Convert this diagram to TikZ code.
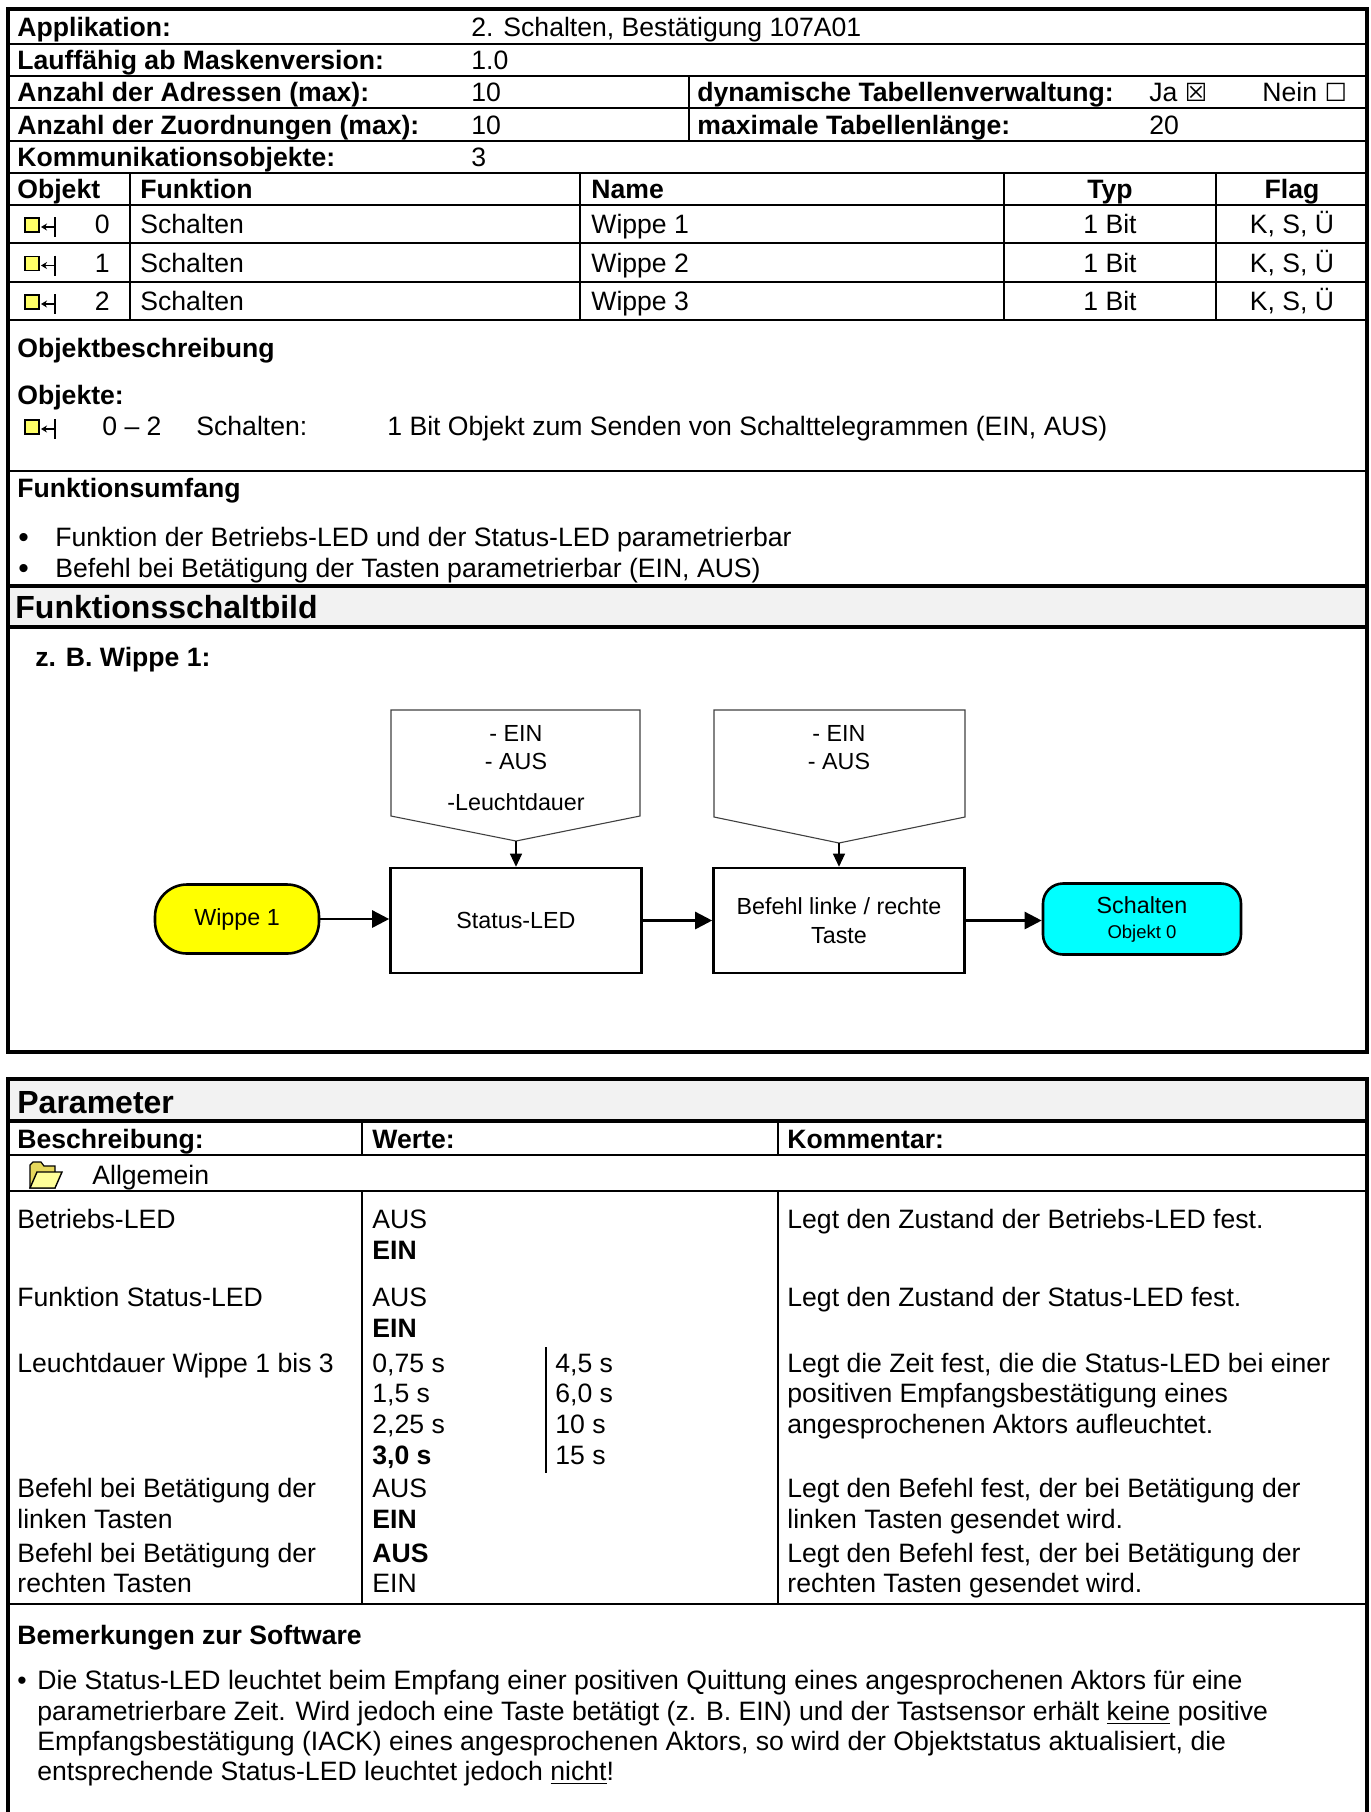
\documentclass[tikz,border=0pt]{standalone}
\usepackage{fontspec}
\setmainfont{Liberation Sans}
\newfontfamily\dejavu{DejaVu Sans}
\usetikzlibrary{arrows.meta}
\newcommand\bodyf{\fontsize{13.3}{15.2}\selectfont}
\newcommand\bigf{\fontsize{16}{18}\selectfont\bfseries}
\newcommand\diagf{\fontsize{11.65}{14.5}\selectfont}
\newcommand\smallf{\fontsize{9.25}{11}\selectfont}
\definecolor{bandgray}{HTML}{F2F2F2}
\definecolor{iconyellow}{HTML}{FFFF66}
\definecolor{wyellow}{HTML}{FFFF00}
\definecolor{scyan}{HTML}{00FFFF}
\definecolor{folderback}{HTML}{E6D85C}
\definecolor{folderfront}{HTML}{FFFF99}
\begin{document}
\begin{tikzpicture}[x=0.5pt,y=-0.5pt,
 lbl/.style={anchor=base west,inner sep=0pt,font=\bodyf\bfseries},
 txt/.style={anchor=base west,inner sep=0pt,font=\bodyf},
 txtb/.style={anchor=base west,inner sep=0pt,font=\bodyf\bfseries},
 ctr/.style={anchor=base,inner sep=0pt,font=\bodyf},
 ctrb/.style={anchor=base,inner sep=0pt,font=\bodyf\bfseries},
 rgt/.style={anchor=base east,inner sep=0pt,font=\bodyf},
 hdr/.style={anchor=base west,inner sep=0pt,font=\bigf},
 dtxt/.style={anchor=base,inner sep=0pt,font=\diagf},
 bul/.style={anchor=base west,inner sep=0pt,font=\fontsize{15}{17}\selectfont},
 frame/.style={line width=1.75pt},
 rule/.style={line width=1pt},
 thinrule/.style={line width=0.7pt},
 pent/.style={draw=black!75,line width=0.55pt},
 stepbox/.style={draw,line width=1.3pt,minimum width=125.5pt,minimum height=52.5pt,inner sep=0pt,align=center,font=\diagf},
 thickarr/.style={line width=1.3pt,-{Triangle[length=8.5pt,width=8.5pt]}},
 thinarr/.style={line width=0.55pt,-{Triangle[length=6.5pt,width=6pt]}},
 objicon/.pic={
   \draw[fill=iconyellow,line width=0.9pt] (25,-6) rectangle (39,8);
   \draw[line width=1.2pt] (55,-7) -- (55,13);
   \draw[line width=0.6pt,-{Stealth[length=3pt,width=3.5pt]}] (55,3) -- (41,3);
 }]
\useasboundingbox (0,0) rectangle (1371,1812);
\clip (0,0) rectangle (1371,1812);

% ---------- backgrounds ----------
\fill[bandgray] (8,586) rectangle (1367,627);
\fill[bandgray] (8,1079) rectangle (1367,1121);

% ---------- box 1 lines ----------
\draw[frame] (8,9) rectangle (1367,1052);
\foreach \yy in {44,76,108,141,173,205,243,282} \draw[rule] (8,\yy) -- (1367,\yy);
\draw[line width=1.3pt] (8,320) -- (1367,320);
\draw[rule] (8,471) -- (1367,471);
\draw[frame] (8,586) -- (1367,586);
\draw[line width=2.2pt] (8,627) -- (1367,627);
\draw[thinrule] (689,76) -- (689,141);
\foreach \xx in {130,580,1004,1216} \draw[thinrule] (\xx,173) -- (\xx,320);

% ---------- box 2 lines ----------
\draw[frame] (8,1079) rectangle (1367,1850);
\draw[frame] (8,1121) -- (1367,1121);
\draw[rule] (8,1155) -- (1367,1155);
\draw[rule] (8,1191) -- (1367,1191);
\draw[line width=1.3pt] (8,1604) -- (1367,1604);
\draw[thinrule] (362,1121) -- (362,1155);
\draw[thinrule] (778,1121) -- (778,1155);
\draw[thinrule] (362,1191) -- (362,1604);
\draw[thinrule] (778,1191) -- (778,1604);
\draw[thinrule] (546,1347) -- (546,1473);

% ---------- header table ----------
\node[lbl] (h1) at (17,36) {Applikation:};
\node[txt] (v1) at (471,36) {2. Schalten, Bestätigung 107A01};
\node[lbl] (h2) at (17,69.5) {Lauffähig ab Maskenversion:};
\node[txt] (v2) at (471,69.5) {1.0};
\node[lbl] (h3) at (17,101.5) {Anzahl der Adressen (max):};
\node[txt] (v3) at (471,101.5) {10};
\node[lbl] (h3b) at (697,101.5) {dynamische Tabellenverwaltung:};
\node[txt] (ja) at (1149,101.5) {Ja {\dejavu\fontsize{12.5}{14}\selectfont ☒}};
\node[txt] (nein) at (1262,101.5) {Nein {\dejavu\fontsize{12.5}{14}\selectfont ☐}};
\node[lbl] (h4) at (17,134) {Anzahl der Zuordnungen (max):};
\node[txt] (v4) at (471,134) {10};
\node[lbl] (h4b) at (697,134) {maximale Tabellenlänge:};
\node[txt] (v4b) at (1149,134) {20};
\node[lbl] (h5) at (17,166.5) {Kommunikationsobjekte:};
\node[txt] (v5) at (471,166.5) {3};
\node[lbl] (c1) at (17,198.5) {Objekt};
\node[lbl] (c2) at (140,198.5) {Funktion};
\node[lbl] (c3) at (591,198.5) {Name};
\node[ctrb] (c4) at (1110,198.5) {Typ};
\node[ctrb] (c5) at (1292,198.5) {Flag};

\pic at (0,224) {objicon};
\node[rgt] (n0) at (110,233.5) {0};
\node[txt] (f0) at (140,233.5) {Schalten};
\node[txt] (w0) at (591,233.5) {Wippe 1};
\node[ctr] (b0) at (1110,233.5) {1 Bit};
\node[ctr] (k0) at (1292,233.5) {K, S, Ü};

\pic at (0,262.5) {objicon};
\node[rgt] (n1) at (110,272) {1};
\node[txt] (f1) at (140,272) {Schalten};
\node[txt] (w1) at (591,272) {Wippe 2};
\node[ctr] (b1) at (1110,272) {1 Bit};
\node[ctr] (k1) at (1292,272) {K, S, Ü};

\pic at (0,301) {objicon};
\node[rgt] (n2) at (110,310.5) {2};
\node[txt] (f2) at (140,310.5) {Schalten};
\node[txt] (w2) at (591,310.5) {Wippe 3};
\node[ctr] (b2) at (1110,310.5) {1 Bit};
\node[ctr] (k2) at (1292,310.5) {K, S, Ü};

% ---------- Objektbeschreibung ----------
\node[lbl] (ob) at (17,357.5) {Objektbeschreibung};
\node[lbl] (oo) at (17,404.5) {Objekte:};
\pic at (0,426) {objicon};
\node[txt] (o1) at (102,435.5) {0 – 2};
\node[txt] (o2) at (196,435.5) {Schalten:};
\node[txt] (o3) at (387,435.5) {1 Bit Objekt zum Senden von Schalttelegrammen (EIN, AUS)};

% ---------- Funktionsumfang ----------
\node[lbl] (fu) at (17,497.5) {Funktionsumfang};
\node[bul] (fb1) at (18,547) {•};
\node[txt] (fu1) at (55,546.5) {Funktion der Betriebs-LED und der Status-LED parametrierbar};
\node[bul] (fb2) at (18,578) {•};
\node[txt] (fu2) at (55,577.5) {Befehl bei Betätigung der Tasten parametrierbar (EIN, AUS)};

% ---------- Funktionsschaltbild ----------
\node[hdr] (fs) at (15,618.5) {Funktionsschaltbild};
\node[lbl] (zb) at (35,666.5) {z. B. Wippe 1:};

\draw[pent] (391,710) -- (640,710) -- (640,816) -- (516,841) -- (391,816) -- cycle;
\coordinate (p1tip) at (516,841);
\node[dtxt] (p1a) at (516,741) {- EIN};
\node[dtxt] (p1b) at (516,769) {- AUS};
\node[dtxt] (p1c) at (516,810) {-Leuchtdauer};

\draw[pent] (714,710) -- (965,710) -- (965,817) -- (839,843) -- (714,817) -- cycle;
\coordinate (p2tip) at (839,843);
\node[dtxt] (p2a) at (839,741) {- EIN};
\node[dtxt] (p2b) at (839,769) {- AUS};

\node[stepbox] (sled) at (516,920.5) {Status-LED};
\node[stepbox] (bef) at (839,920.5) {Befehl linke / rechte\\Taste};
\node[draw,line width=1.3pt,fill=wyellow,rounded corners=16pt,minimum width=82pt,minimum height=34.5pt,inner sep=0pt,font=\diagf] (wip) at (237,919) {Wippe 1};
\node[draw,line width=1.3pt,fill=scyan,rounded corners=10pt,minimum width=99pt,minimum height=35.5pt,inner sep=0pt,align=center,font=\diagf] (sch) at (1142,919) {Schalten\\[-2pt]{\smallf Objekt 0}};

\draw[thinarr] (p1tip) -- (sled.north);
\draw[thinarr] (p2tip) -- (bef.north);
\draw[thickarr] (wip.east) -- (wip.east -| sled.west);
\draw[thickarr] (sled.east) -- (bef.west);
\draw[thickarr] (bef.east) -- (bef.east -| sch.west);

% ---------- Parameter ----------
\node[hdr] (pa) at (17,1113) {Parameter};
\node[lbl] (pb) at (17,1148) {Beschreibung:};
\node[lbl] (pw) at (372,1148) {Werte:};
\node[lbl] (pk) at (787,1148) {Kommentar:};

\fill[folderback,draw=black,line width=0.6pt] (30,1188) -- (30,1165) -- (33,1162) -- (41,1162) -- (44,1166) -- (55,1166) -- (55,1188) -- cycle;
\fill[folderfront,draw=black,line width=0.7pt] (30,1188) -- (37,1172) -- (62,1172) -- (55,1188) -- cycle;
\node[txt] (al) at (92,1184) {Allgemein};

\node[txt] (r1a) at (17,1228) {Betriebs-LED};
\node[txt] (r1b) at (372,1228) {AUS};
\node[txt] (r1c) at (787,1228) {Legt den Zustand der Betriebs-LED fest.};
\node[txtb] (r1d) at (372,1259) {EIN};

\node[txt] (r2a) at (17,1306) {Funktion Status-LED};
\node[txt] (r2b) at (372,1306) {AUS};
\node[txt] (r2c) at (787,1306) {Legt den Zustand der Status-LED fest.};
\node[txtb] (r2d) at (372,1337) {EIN};

\node[txt] (r3a) at (17,1372) {Leuchtdauer Wippe 1 bis 3};
\node[txt] (r3b) at (372,1372) {0,75 s};
\node[txt] (r3c) at (555,1372) {4,5 s};
\node[txt] (r3d) at (787,1372) {Legt die Zeit fest, die die Status-LED bei einer};
\node[txt] (r3e) at (372,1402.5) {1,5 s};
\node[txt] (r3f) at (555,1402.5) {6,0 s};
\node[txt] (r3g) at (787,1402.5) {positiven Empfangsbestätigung eines};
\node[txt] (r3h) at (372,1433) {2,25 s};
\node[txt] (r3i) at (555,1433) {10 s};
\node[txt] (r3j) at (787,1433) {angesprochenen Aktors aufleuchtet.};
\node[txtb] (r3k) at (372,1464) {3,0 s};
\node[txt] (r3l) at (555,1464) {15 s};

\node[txt] (r4a) at (17,1497.5) {Befehl bei Betätigung der};
\node[txt] (r4b) at (372,1497.5) {AUS};
\node[txt] (r4c) at (787,1497.5) {Legt den Befehl fest, der bei Betätigung der};
\node[txt] (r4d) at (17,1528.5) {linken Tasten};
\node[txtb] (r4e) at (372,1528.5) {EIN};
\node[txt] (r4f) at (787,1528.5) {linken Tasten gesendet wird.};

\node[txt] (r5a) at (17,1562.5) {Befehl bei Betätigung der};
\node[txtb] (r5b) at (372,1562.5) {AUS};
\node[txt] (r5c) at (787,1562.5) {Legt den Befehl fest, der bei Betätigung der};
\node[txt] (r5d) at (17,1592.5) {rechten Tasten};
\node[txt] (r5e) at (372,1592.5) {EIN};
\node[txt] (r5f) at (787,1592.5) {rechten Tasten gesendet wird.};

% ---------- Bemerkungen ----------
\node[lbl] (bz) at (17,1644) {Bemerkungen zur Software};
\node[txt] (bb) at (17,1689.5) {•};
\node[txt] (bl1) at (37,1689.5) {Die Status-LED leuchtet beim Empfang einer positiven Quittung eines angesprochenen Aktors für eine};
\node[txt] (bl2) at (37,1720) {parametrierbare Zeit. Wird jedoch eine Taste betätigt (z. B. EIN) und der Tastsensor erhält \underline{keine} positive};
\node[txt] (bl3) at (37,1750) {Empfangsbestätigung (IACK) eines angesprochenen Aktors, so wird der Objektstatus aktualisiert, die};
\node[txt] (bl4) at (37,1780) {entsprechende Status-LED leuchtet jedoch \underline{nicht}!};
\end{tikzpicture}
\end{document}
